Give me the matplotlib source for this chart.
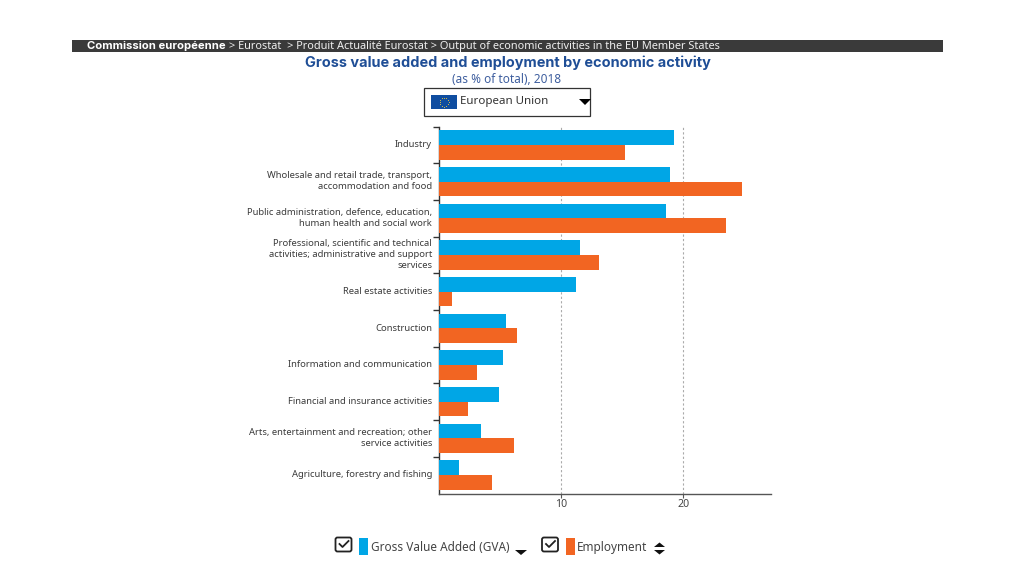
import numpy as np
import matplotlib
matplotlib.use("Agg")
import matplotlib.pyplot as plt
from matplotlib.patches import Rectangle, Polygon, FancyBboxPatch

plt.rcParams['font.family'] = ['Noto Sans', 'DejaVu Sans']
BOLD_FONT = ['Inter', 'DejaVu Sans']

categories = [
    "Industry",
    "Wholesale and retail trade, transport,\naccommodation and food",
    "Public administration, defence, education,\nhuman health and social work",
    "Professional, scientific and technical\nactivities; administrative and support\nservices",
    "Real estate activities",
    "Construction",
    "Information and communication",
    "Financial and insurance activities",
    "Arts, entertainment and recreation; other\nservice activities",
    "Agriculture, forestry and fishing",
]
gva = [19.2, 18.9, 18.6, 11.5, 11.2, 5.5, 5.2, 4.9, 3.4, 1.6]
employment = [15.2, 24.8, 23.5, 13.1, 1.1, 6.4, 3.1, 2.4, 6.1, 4.3]
x_ticks = [10, 20]

BLUE = '#00a6e6'
ORANGE = '#f26522'
W, H = 1024, 576

fig = plt.figure(figsize=(W / 100, H / 100), dpi=100)

# overlay in pixel coords for the page furniture
bg = fig.add_axes([0, 0, 1, 1])
bg.set_xlim(0, W)
bg.set_ylim(H, 0)
bg.axis('off')

# chart area
left, right, top, bottom = 439, 771, 126.5, 493.5
ax = fig.add_axes([left / W, 1 - bottom / H, (right - left) / W, (bottom - top) / H])
ax.patch.set_alpha(0)
y = np.arange(len(categories))
bar_h = 0.4
ax.barh(y - bar_h / 2, gva, bar_h, color=BLUE, zorder=3)
ax.barh(y + bar_h / 2, employment, bar_h, color=ORANGE, zorder=3)
ax.set_xlim(0, (right - left) / 12.22)
ax.set_ylim(len(categories) - 0.5, -0.5)

ax.set_xticks(x_ticks)
ax.set_xticklabels([str(t) for t in x_ticks], fontsize=7.6, color='#444444')
ax.tick_params(axis='x', length=3, width=0.8, color='#555555', pad=1)
ax.xaxis.grid(True, linestyle=(0, (2, 2)), color='#aaaaaa', linewidth=0.8, zorder=0)

# tick at the top of each band, none at the bottom corner
ax.set_yticks(np.arange(len(categories)) - 0.5)
ax.set_yticklabels([])
ax.tick_params(axis='y', length=4, width=1, color='#333333')
for i, c in enumerate(categories):
    ax.annotate(c, xy=(0, i), xycoords=('axes fraction', 'data'), xytext=(-5, 0.2),
                textcoords='offset points', ha='right', va='center',
                fontsize=6.8, color='#3c3c3c', linespacing=1.32)

for s in ['top', 'right']:
    ax.spines[s].set_visible(False)
ax.spines['left'].set_color('#333333')
ax.spines['bottom'].set_color('#555555')
ax.spines['left'].set_linewidth(1)
ax.spines['bottom'].set_linewidth(1)

# breadcrumb bar
bg.add_patch(Rectangle((72, 39.5), 871, 12.5, color='#3a3a3a', lw=0))
bg.text(87, 46, "Commission européenne", color='white', fontsize=8.1, fontweight='bold',
        family=BOLD_FONT, va='center')
bg.text(229, 46, "> Eurostat  > Produit Actualité Eurostat > Output of economic activities in the EU Member States",
        color='#eeeeee', fontsize=7.9, va='center')

# titles
bg.text(507.5, 63, "Gross value added and employment by economic activity", color='#1f4e96',
        fontsize=10.45, fontweight='bold', family=BOLD_FONT, ha='center', va='center')
bg.text(507, 79.5, "(as % of total), 2018", color='#3f5f9f', fontsize=8.5, ha='center', va='center')

# country dropdown
bg.add_patch(Rectangle((423.5, 87.5), 166, 28, fc='white', ec='#333333', lw=0.9))
bg.add_patch(Rectangle((431, 95), 26, 14, color='#0f4da0', lw=0))
angles = np.linspace(0, 2 * np.pi, 12, endpoint=False)
bg.scatter(444 + 4.5 * np.cos(angles), 102 + 4.5 * np.sin(angles), s=0.6, color='#e8c840', lw=0)
bg.text(460, 101.5, "European Union", color='#333333', fontsize=8.3, va='center')
bg.add_patch(Polygon([(579, 99), (591, 99), (585, 105)], color='black', lw=0))


def checkbox(x, y0):
    bg.add_patch(FancyBboxPatch((x + 1, y0 + 1), 14, 12, boxstyle='round,pad=1,rounding_size=2',
                                fc='white', ec='#222222', lw=1.3))
    bg.plot([x + 4, x + 7, x + 13], [y0 + 6.5, y0 + 9.5, y0 + 3.5], color='#222222', lw=1.3)


# legend
checkbox(335.5, 537.5)
bg.add_patch(Rectangle((359, 538), 9, 17, color=BLUE, lw=0))
bg.text(371, 547.5, "Gross Value Added (GVA)", color='#444444', fontsize=8.5, va='center')
bg.add_patch(Polygon([(515, 550), (527, 550), (521, 555)], color='#111111', lw=0))

checkbox(542, 537.5)
bg.add_patch(Rectangle((566, 538), 8.5, 17, color=ORANGE, lw=0))
bg.text(577, 547.5, "Employment", color='#444444', fontsize=8.5, va='center')
bg.add_patch(Polygon([(654, 547), (665, 547), (659.5, 542.5)], color='#111111', lw=0))
bg.add_patch(Polygon([(654, 550), (665, 550), (659.5, 554.5)], color='#111111', lw=0))

fig.savefig('out.png', dpi=100)
